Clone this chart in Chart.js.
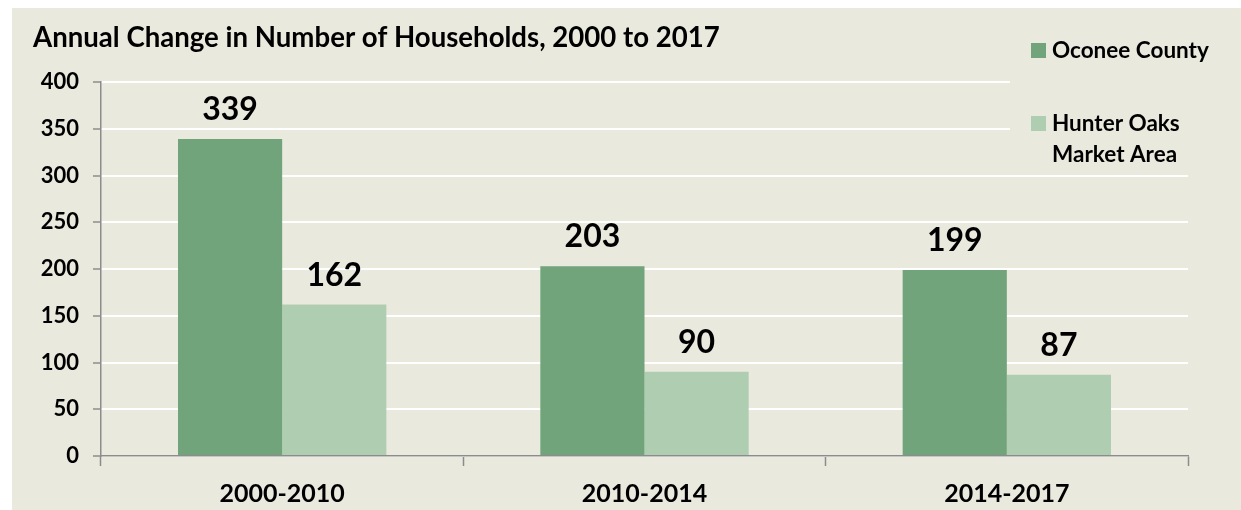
<!DOCTYPE html>
<html>
<head>
<meta charset="utf-8">
<script src="https://cdn.jsdelivr.net/npm/chart.js@4.4.1/dist/chart.umd.min.js"></script>
<style>
  html, body { margin: 0; padding: 0; background: #ffffff; }
  #wrap { position: relative; width: 1241px; height: 510px; }
</style>
</head>
<body>
<div id="wrap"><canvas id="hhChart" width="1241" height="510"></canvas></div>
<script>
const chartTitle = 'Annual Change in Number of Households, 2000 to 2017';
const periods = ['2000-2010', '2010-2014', '2014-2017'];
const seriesNames = ['Oconee County', 'Hunter Oaks Market Area'];
const oconeeValues = [339, 203, 199];
const marketValues = [162, 90, 87];
const yMin = 0;
const yMax = 400;
const yStep = 50;

const FONT = 'Lato, "Open Sans", sans-serif';
const BG = '#EAE9DD';
const AXIS = '#8C8C8C';
const colors = ['#71A47A', '#AFCDB1'];

// background, value labels, title and the boxed legend
const decor = {
  id: 'decor',
  beforeDraw(chart) {
    const ctx = chart.ctx;
    ctx.save();
    ctx.fillStyle = BG;
    ctx.fillRect(12, 8, chart.width - 12, chart.height - 8);
    ctx.restore();
  },
  afterDatasetsDraw(chart) {
    const ctx = chart.ctx;
    ctx.save();
    ctx.font = 'bold 32px ' + FONT;
    ctx.fillStyle = '#000';
    ctx.textAlign = 'center';
    ctx.textBaseline = 'alphabetic';
    chart.data.datasets.forEach((ds, i) => {
      chart.getDatasetMeta(i).data.forEach((bar, j) => {
        ctx.fillText(ds.data[j], bar.x, bar.y - 19);
      });
    });
    ctx.restore();
  },
  afterDraw(chart) {
    const ctx = chart.ctx;
    ctx.save();
    ctx.fillStyle = '#000';
    ctx.font = 'bold 27.6px ' + FONT;
    ctx.textAlign = 'left';
    ctx.textBaseline = 'alphabetic';
    ctx.fillText(chartTitle, 33, 47);

    // legend sits on top of the grid, so cover the lines first
    ctx.fillStyle = BG;
    ctx.fillRect(1010, 14, chart.width - 1010, 150);

    ctx.font = 'bold 22.5px ' + FONT;
    let y = 58;
    chart.data.datasets.forEach((ds, i) => {
      ctx.fillStyle = ds.backgroundColor;
      ctx.fillRect(1031, y - 15, 15, 15);
      ctx.fillStyle = '#000';
      const words = ds.label.split(' ');
      const lines = [];
      let line = '';
      words.forEach(w => {
        const test = line ? line + ' ' + w : w;
        if (line && ctx.measureText(test).width > 175) {
          lines.push(line);
          line = w;
        } else {
          line = test;
        }
      });
      lines.push(line);
      lines.forEach((l, k) => ctx.fillText(l, 1052, y + k * 31));
      y += 73;
    });
    ctx.restore();
  }
};

new Chart(document.getElementById('hhChart'), {
  type: 'bar',
  data: {
    labels: periods,
    datasets: [
      { label: seriesNames[0], data: oconeeValues, backgroundColor: colors[0] },
      { label: seriesNames[1], data: marketValues, backgroundColor: colors[1] }
    ]
  },
  options: {
    responsive: false,
    animation: false,
    devicePixelRatio: 1,
    barPercentage: 1,
    categoryPercentage: 0.575,
    layout: { padding: { left: 0, right: 53, top: 82, bottom: 0 } },
    plugins: {
      legend: { display: false },
      title: { display: false },
      tooltip: { enabled: false }
    },
    scales: {
      x: {
        afterFit(scale) { scale.height = 54; },
        grid: {
          drawOnChartArea: false,
          drawTicks: true,
          tickLength: 10,
          tickColor: AXIS,
          tickWidth: 1.5,
          offset: true
        },
        border: { color: AXIS, width: 1.5 },
        ticks: {
          color: '#000',
          padding: 13,
          font: { family: FONT, size: 25, weight: 'bold' }
        }
      },
      y: {
        min: yMin,
        max: yMax,
        afterFit(scale) { scale.width = 101; },
        grid: {
          color: '#ffffff',
          lineWidth: 2,
          tickColor: AXIS,
          tickWidth: 1.5,
          tickLength: 8
        },
        border: { color: AXIS, width: 1.5 },
        ticks: {
          stepSize: yStep,
          color: '#000',
          padding: 14,
          font: { family: FONT, size: 22, weight: 'bold' }
        }
      }
    }
  },
  plugins: [decor]
});
</script>
</body>
</html>
